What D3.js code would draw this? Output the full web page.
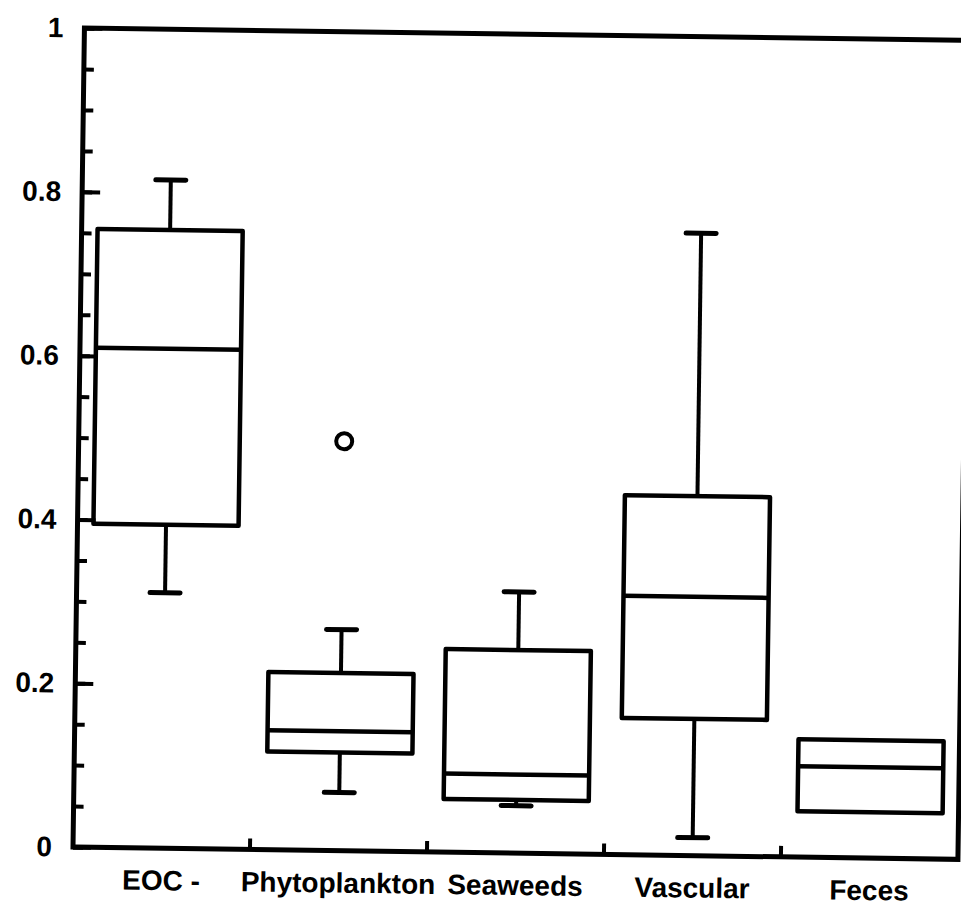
<!DOCTYPE html>
<html>
<head>
<meta charset="utf-8">
<script src="https://d3js.org/d3.v7.min.js"></script>
<style>
  body { margin: 0; background: #fff; }
  svg { display: block; }
</style>
</head>
<body>
<script>
// Chart data
var categories = ["EOC -", "Phytoplankton", "Seaweeds", "Vascular", "Feces"];
var lowerWhisker = [0.312, 0.071, 0.058, 0.022, null];
var quartile1    = [0.395, 0.120, 0.065, 0.167, 0.056];
var medians      = [0.610, 0.146, 0.096, 0.316, 0.111];
var quartile3    = [0.755, 0.217, 0.248, 0.439, 0.144];
var upperWhisker = [0.816, 0.270, 0.319, 0.760, null];
var outlierCats   = ["Phytoplankton"];
var outlierValues = [0.500];
var yTickLabels = [0, 0.2, 0.4, 0.6, 0.8, 1];

// Step 0: Set up the chart
var svgWidth = 961;
var svgHeight = 913;
var margin = {top: 28, right: 3, bottom: 66, left: 73};
var w = svgWidth - margin.left - margin.right;
var h = svgHeight - margin.top - margin.bottom;

var svg = d3.select("body")
    .append("svg")
    .attr("width", svgWidth)
    .attr("height", svgHeight);

// the original is a slightly skewed scan, so tilt the whole plot a little
var g = svg.append("g")
    .attr("transform", "rotate(0.8," + margin.left + "," + (margin.top + h) + ")")
  .append("g")
    .attr("transform", "translate(" + margin.left + "," + margin.top + ")");

var boxes = categories.map(function(c, i) {
  return {cat: c, lo: lowerWhisker[i], q1: quartile1[i], med: medians[i], q3: quartile3[i], hi: upperWhisker[i]};
});

// Scales
var xScale = d3.scaleBand().domain(categories).range([0, w]).padding(0);
var yScale = d3.scaleLinear().domain([0, 1]).range([h, 0]);

var boxW = xScale.bandwidth() * 0.82;
var capW = 30;
var ink = "#000";
var fontFam = "'Liberation Sans', Arial, sans-serif";

// Frame
g.append("rect")
  .attr("x", 0).attr("y", 0)
  .attr("width", w).attr("height", h)
  .attr("fill", "none")
  .attr("stroke", ink)
  .attr("stroke-width", 5);

// y axis: minor ticks every 0.05, major ticks with labels
var minorAxis = d3.axisLeft(yScale)
    .tickValues(d3.range(0, 21).map(function(d) { return d / 20; }))
    .tickSize(-10)
    .tickFormat("");
var yMinor = g.append("g").call(minorAxis);
yMinor.select(".domain").remove();
yMinor.selectAll("line").attr("stroke", ink).attr("stroke-width", 4);

var majorAxis = d3.axisLeft(yScale)
    .tickValues(yTickLabels)
    .tickSize(-18)
    .tickPadding(21)
    .tickFormat(function(d) { return String(d); });
var yMajor = g.append("g").call(majorAxis);
yMajor.select(".domain").remove();
yMajor.selectAll("line").attr("stroke", ink).attr("stroke-width", 4);
yMajor.selectAll("text")
  .attr("fill", ink)
  .style("font-family", fontFam)
  .style("font-weight", "bold")
  .style("font-size", "28px");

// x axis: category labels, ticks between categories
var bottomAxis = d3.axisBottom(xScale).tickSize(0).tickPadding(22);
var xAxis = g.append("g")
  .attr("transform", "translate(0," + h + ")")
  .call(bottomAxis);
xAxis.select(".domain").remove();
xAxis.selectAll("text")
  .attr("fill", ink)
  .style("font-family", fontFam)
  .style("font-weight", "bold")
  .style("font-size", "28px");

g.selectAll(".sep")
  .data(categories.slice(1))
  .enter().append("line")
  .attr("class", "sep")
  .attr("x1", function(d) { return xScale(d); })
  .attr("x2", function(d) { return xScale(d); })
  .attr("y1", h)
  .attr("y2", h - 11)
  .attr("stroke", ink)
  .attr("stroke-width", 4);

// Boxes
var box = g.selectAll(".box")
  .data(boxes)
  .enter().append("g")
  .attr("class", "box")
  .attr("transform", function(d) { return "translate(" + (xScale(d.cat) + xScale.bandwidth() / 2) + ",0)"; });

var withWhiskers = box.filter(function(d) { return d.hi != null; });

// whisker stems
withWhiskers.append("line")
  .attr("x1", 0).attr("x2", 0)
  .attr("y1", function(d) { return yScale(d.q3); })
  .attr("y2", function(d) { return yScale(d.hi); })
  .attr("stroke", ink).attr("stroke-width", 4);
withWhiskers.append("line")
  .attr("x1", 0).attr("x2", 0)
  .attr("y1", function(d) { return yScale(d.q1); })
  .attr("y2", function(d) { return yScale(d.lo); })
  .attr("stroke", ink).attr("stroke-width", 4);

// whisker caps
withWhiskers.append("line")
  .attr("x1", -capW / 2).attr("x2", capW / 2)
  .attr("y1", function(d) { return yScale(d.hi); })
  .attr("y2", function(d) { return yScale(d.hi); })
  .attr("stroke", ink).attr("stroke-width", 5).attr("stroke-linecap", "round");
withWhiskers.append("line")
  .attr("x1", -capW / 2).attr("x2", capW / 2)
  .attr("y1", function(d) { return yScale(d.lo); })
  .attr("y2", function(d) { return yScale(d.lo); })
  .attr("stroke", ink).attr("stroke-width", 5).attr("stroke-linecap", "round");

box.append("rect")
  .attr("x", -boxW / 2)
  .attr("width", boxW)
  .attr("y", function(d) { return yScale(d.q3); })
  .attr("height", function(d) { return yScale(d.q1) - yScale(d.q3); })
  .attr("fill", "none")
  .attr("stroke", ink)
  .attr("stroke-width", 4.5)
  .attr("stroke-linejoin", "round");

box.append("line")
  .attr("x1", -boxW / 2).attr("x2", boxW / 2)
  .attr("y1", function(d) { return yScale(d.med); })
  .attr("y2", function(d) { return yScale(d.med); })
  .attr("stroke", ink).attr("stroke-width", 4.5);

// Outliers
g.selectAll(".outlier")
  .data(outlierCats)
  .enter().append("circle")
  .attr("class", "outlier")
  .attr("cx", function(d) { return xScale(d) + xScale.bandwidth() / 2; })
  .attr("cy", function(d, i) { return yScale(outlierValues[i]); })
  .attr("r", 8)
  .attr("fill", "none")
  .attr("stroke", ink)
  .attr("stroke-width", 4);
</script>
</body>
</html>
